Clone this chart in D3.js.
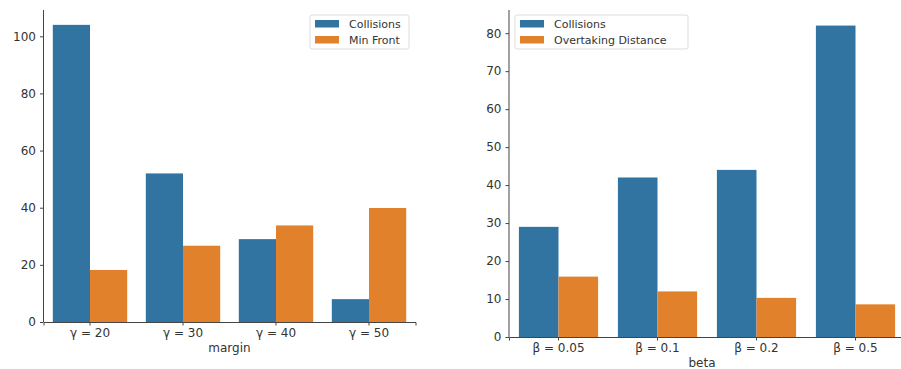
<!DOCTYPE html>
<html><head><meta charset="utf-8">
<script src="https://cdn.jsdelivr.net/npm/d3@7"></script>
<style>body{margin:0;background:#fff}svg{display:block}text{font-family:"DejaVu Sans",sans-serif}</style>
</head><body>
<svg id="c" width="901" height="369"></svg>
<script>
const leftCategories = ["γ = 20", "γ = 30", "γ = 40", "γ = 50"];
const leftCollisions = [104, 52, 29, 8];
const leftMinFront = [18.2, 26.7, 33.8, 39.9];
const leftSeries = ["Collisions", "Min Front"];
const leftTicks = [0, 20, 40, 60, 80, 100];

const rightCategories = ["β = 0.05", "β = 0.1", "β = 0.2", "β = 0.5"];
const rightCollisions = [29, 42, 44, 82];
const rightOvertaking = [15.9, 12, 10.3, 8.6];
const rightSeries = ["Collisions", "Overtaking Distance"];
const rightTicks = [0, 10, 20, 30, 40, 50, 60, 70, 80];

const colors = ["#3274a1", "#e1812c"];
const svg = d3.select("#c");

function panel(cfg) {
  const g = svg.append("g");
  const x = d3.scaleBand().domain(cfg.cats).range(cfg.xr).paddingInner(0).paddingOuter(0);
  const y = d3.scaleLinear().domain([0, cfg.ymax]).range(cfg.yr);
  const inner = d3.scaleBand().domain([0, 1]).range([0, x.bandwidth() * 0.8]);
  const off = x.bandwidth() * 0.1;
  cfg.series.forEach((vals, si) => {
    g.selectAll(null).data(vals).enter().append("rect")
      .attr("x", (d, i) => x(cfg.cats[i]) + off + inner(si))
      .attr("y", d => y(d))
      .attr("width", inner.bandwidth())
      .attr("height", d => y(0) - y(d))
      .attr("fill", colors[si]);
  });
  const ya = g.append("g").attr("transform", `translate(${cfg.xr[0]},0)`)
    .call(d3.axisLeft(y).tickValues(cfg.ticks).tickSize(3.5).tickPadding(4));
  const xa = g.append("g").attr("transform", `translate(0,${cfg.yr[0]})`)
    .call(d3.axisBottom(x).tickSize(3.5).tickPadding(3));
  [ya, xa].forEach(a => {
    a.selectAll("path, line").attr("stroke", "#444").attr("stroke-width", 1);
    a.selectAll("text").attr("fill", "#333").style("font-size", "12px");
  });
  ya.select(".domain").attr("d", `M0,${cfg.yr[0]}V${cfg.yr[1]}`);
  g.append("text").attr("x", (cfg.xr[0] + Math.min(cfg.xr[1], 901)) / 2 + cfg.lblShift)
    .attr("y", cfg.xlabelY).attr("text-anchor", "middle")
    .attr("fill", "#333").style("font-size", "12px").text(cfg.xlabel);
  // legend
  const lg = g.append("g").attr("transform", `translate(${cfg.leg[0]},${cfg.leg[1]})`);
  lg.append("rect").attr("width", cfg.leg[2]).attr("height", 34).attr("rx", 2)
    .attr("fill", "#fff").attr("stroke", "#ddd");
  cfg.names.forEach((n, i) => {
    lg.append("rect").attr("x", 5).attr("y", 5 + i * 16).attr("width", 24).attr("height", 7.5).attr("fill", colors[i]);
    lg.append("text").attr("x", 39).attr("y", 9 + i * 16).attr("dy", "0.35em")
      .attr("fill", "#333").style("font-size", "11px").text(n);
  });
}

panel({cats: leftCategories, series: [leftCollisions, leftMinFront], names: leftSeries,
  ticks: leftTicks, xr: [43.5, 415.5], yr: [322, 10], ymax: 109.2,
  xlabel: "margin", xlabelY: 352, lblShift: 0, leg: [310, 15, 99]});
panel({cats: rightCategories, series: [rightCollisions, rightOvertaking], names: rightSeries,
  ticks: rightTicks, xr: [509, 905], yr: [337, 10], ymax: 86.1,
  xlabel: "beta", xlabelY: 367, lblShift: -3, leg: [515, 15, 173]});
</script>
</body></html>
